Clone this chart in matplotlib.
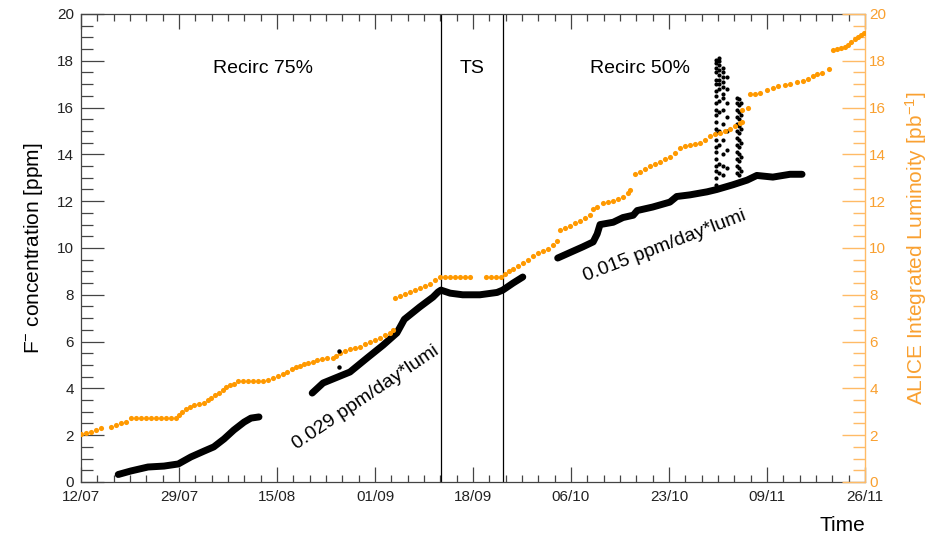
import numpy as np
import matplotlib
matplotlib.use("Agg")
import matplotlib.pyplot as plt
from matplotlib.ticker import FixedLocator, MultipleLocator

plt.rcParams['font.family'] = ['Liberation Sans', 'DejaVu Sans']
plt.rcParams['mathtext.fontset'] = 'custom'
plt.rcParams['mathtext.rm'] = 'Liberation Sans'
plt.rcParams['mathtext.it'] = 'Liberation Sans:italic'

# x is in days since 12/07
tick_labels = ['12/07', '29/07', '15/08', '01/09', '18/09', '06/10', '23/10', '09/11', '26/11']
x_max = 137.0

# F- concentration, three continuous stretches of data
f_seg1_day = [6.5, 8.7, 11.7, 14.5, 17.0, 19.2, 21.5, 23.2, 25.0, 26.7, 28.5, 29.7, 31.1]
f_seg1_ppm = [0.32, 0.47, 0.64, 0.68, 0.77, 1.07, 1.32, 1.5, 1.84, 2.22, 2.56, 2.73, 2.78]

f_seg2_day = [40.4, 42.3, 44.9, 47.0, 50.0, 52.8, 55.2, 56.5, 59.2, 61.5, 62.4, 62.9,
              64.5, 66.7, 69.7, 72.7, 73.7, 75.5, 77.2]
f_seg2_ppm = [3.8, 4.23, 4.49, 4.7, 5.3, 5.85, 6.37, 6.95, 7.48, 7.9, 8.12, 8.2,
              8.07, 8.0, 8.0, 8.1, 8.2, 8.5, 8.76]

f_seg3_day = [83.3, 85.4, 87.7, 89.5, 90.2, 90.7, 93.0, 94.7, 96.5, 97.2, 99.9, 102.9,
              104.1, 106.4, 109.4, 111.1, 113.9, 116.4, 118.1, 120.9, 123.9, 126.0]
f_seg3_ppm = [9.57, 9.8, 10.05, 10.26, 10.6, 11.0, 11.1, 11.3, 11.4, 11.6, 11.75, 11.96,
              12.2, 12.27, 12.4, 12.5, 12.7, 12.9, 13.1, 13.03, 13.15, 13.15]

# stray readings
f_out_day = [45.1, 45.1]
f_out_ppm = [5.6, 4.9]

# spiky readings end of October
spike_day = [110.9, 111.5, 112.2, 112.9, 114.6, 115.0, 115.4]
spike_ppm = [
    [12.7, 13.0, 13.3, 13.5, 13.8, 14.1, 14.3, 14.6, 14.9, 15.1, 15.4, 15.7, 15.9, 16.2,
     16.5, 16.7, 17.0, 17.2, 17.5, 17.7, 17.9, 18.05],
    [13.2, 13.6, 14.4, 15.0, 15.8, 16.3, 16.8, 17.0, 17.2, 17.4, 17.6, 17.8, 18.0, 18.1],
    [13.1, 13.5, 14.0, 14.6, 15.3, 15.9, 16.4, 16.6, 16.9, 17.1, 17.3, 17.5, 17.7],
    [13.4, 14.2, 15.0, 15.6, 16.2, 16.8, 17.3],
    [13.2, 13.5, 13.8, 14.1, 14.4, 14.7, 15.0, 15.3, 15.6, 15.9, 16.2, 16.4],
    [13.1, 13.4, 13.7, 14.0, 14.3, 14.6, 14.9, 15.2, 15.5, 15.8, 16.1, 16.35],
    [13.3, 13.9, 14.5, 15.1, 15.7, 16.2],
]

# ALICE integrated luminosity
lumi_day = [0.0, 0.9, 1.7, 2.6, 3.5, 5.2, 6.1, 7.0, 7.9, 8.7, 9.6, 10.5, 11.4, 12.2, 13.1,
            14.0, 14.9, 15.7, 16.6, 17.1, 17.6, 18.3, 19.0, 19.7, 20.6, 21.5, 22.2, 22.7,
            23.4, 24.1, 24.8, 25.3, 26.0, 26.7, 27.4, 28.3, 29.2, 30.1, 30.9, 31.8, 32.7,
            33.5, 34.4, 35.3, 36.0, 36.9, 37.6, 38.3, 39.0, 39.7, 40.5, 41.2, 42.1, 43.0,
            44.0, 44.6, 45.3, 46.1, 47.0, 47.9, 48.8, 49.6, 50.5, 51.4, 52.2, 53.1, 54.0,
            54.5, 54.9, 55.7, 56.6, 57.5, 58.4, 59.2, 60.1, 61.0, 61.9, 62.7, 63.6, 64.5,
            65.4, 66.2, 67.1, 68.0, 70.8, 71.6, 72.5, 73.4, 74.1, 74.8, 75.5, 76.4, 77.2,
            78.1, 79.0, 79.9, 80.7, 81.6, 82.5, 83.2, 83.7, 84.6, 85.4, 86.3, 87.2, 88.1,
            88.9, 89.5, 90.2, 91.2, 92.1, 93.0, 93.8, 94.7, 95.6, 95.9, 96.8, 97.7, 98.6,
            99.4, 100.3, 101.2, 102.0, 102.9, 103.8, 104.7, 105.5, 106.4, 107.3, 108.2,
            109.0, 109.9, 110.8, 111.7, 112.5, 113.4, 114.3, 115.2, 115.5, 115.5, 116.5,
            116.9, 117.8, 118.6, 119.9, 120.9, 121.8, 123.0, 123.9, 125.1, 126.2, 127.0,
            127.9, 128.6, 129.5, 130.7, 131.4, 132.1, 132.8, 133.5, 134.0, 134.5, 135.2,
            135.8, 136.3, 136.8]
lumi_pb = [2.05, 2.09, 2.14, 2.22, 2.31, 2.35, 2.44, 2.52, 2.56, 2.74, 2.74, 2.74, 2.74, 2.74,
           2.74, 2.74, 2.74, 2.74, 2.74, 2.86, 2.99, 3.12, 3.2, 3.29, 3.33, 3.38, 3.5, 3.59,
           3.72, 3.8, 3.93, 4.06, 4.15, 4.19, 4.32, 4.32, 4.32, 4.32, 4.32, 4.32, 4.36,
           4.44, 4.53, 4.62, 4.7, 4.83, 4.91, 4.96, 5.04, 5.09, 5.13, 5.21, 5.26, 5.3,
           5.3, 5.38, 5.51, 5.6, 5.68, 5.73, 5.77, 5.9, 5.98, 6.07, 6.15, 6.28, 6.37,
           6.5, 7.86, 7.95, 8.03, 8.12, 8.2, 8.29, 8.38, 8.46, 8.63, 8.76, 8.76, 8.76,
           8.76, 8.76, 8.76, 8.76, 8.76, 8.76, 8.76, 8.76, 8.89, 9.02, 9.1, 9.23, 9.36,
           9.49, 9.66, 9.79, 9.87, 9.96, 10.13, 10.3, 10.77, 10.85, 10.94, 11.07, 11.15, 11.28,
           11.41, 11.67, 11.75, 11.92, 11.97, 12.01, 12.09, 12.18, 12.35, 12.48, 13.16, 13.25, 13.38,
           13.5, 13.59, 13.68, 13.8, 13.89, 14.06, 14.27, 14.36, 14.4, 14.44, 14.49,
           14.62, 14.79, 14.87, 14.91, 15.0, 15.09, 15.21, 15.34, 15.9, 15.38, 15.98,
           16.58, 16.58, 16.62, 16.75, 16.84, 16.92, 16.97, 17.01, 17.09, 17.14, 17.22,
           17.35, 17.44, 17.48, 17.65, 18.46, 18.5, 18.55, 18.59, 18.68, 18.8, 18.93,
           19.02, 19.1, 19.19]

ts_start, ts_end = 62.9, 73.7

axis_grey = '#444444'
orange = '#ff9900'
orange_axis = '#ffbb66'
orange_text = '#f9a030'

fig = plt.figure(figsize=(9.27, 5.34), dpi=100)
ax = fig.add_axes([0.0874, 0.0974, 0.8457, 0.8764])
ax2 = ax.twinx()

# concentration
for d, v in [(f_seg1_day, f_seg1_ppm), (f_seg2_day, f_seg2_ppm), (f_seg3_day, f_seg3_ppm)]:
    ax.plot(d, v, color='black', lw=5.0, solid_capstyle='round', solid_joinstyle='round', zorder=3)
for d, vals in zip(spike_day, spike_ppm):
    ax.plot([d] * len(vals), vals, 'o', color='black', ms=3.0, mew=0, zorder=3)

ax.axvline(ts_start, color='black', lw=0.9, zorder=2)
ax.axvline(ts_end, color='black', lw=0.9, zorder=2)

ax.set_xlim(0, x_max)
ax.set_ylim(0, 20)
major_x = [i * x_max / 8 for i in range(9)]
ax.xaxis.set_major_locator(FixedLocator(major_x))
ax.xaxis.set_minor_locator(MultipleLocator(x_max / 48))
ax.set_xticklabels(tick_labels)
ax.yaxis.set_major_locator(MultipleLocator(2))
ax.yaxis.set_minor_locator(MultipleLocator(0.5))

ax.tick_params(axis='x', which='major', direction='in', length=10.8, width=0.9,
               color=axis_grey, top=True, labelsize=11, labelcolor='#222222', pad=5.5)
ax.tick_params(axis='x', which='minor', direction='in', length=5.2, width=0.9,
               color=axis_grey, top=True)
ax.tick_params(axis='y', which='major', direction='in', length=16.5, width=0.9,
               color=axis_grey, right=False, labelsize=11, labelcolor='#222222', pad=5)
ax.tick_params(axis='y', which='minor', direction='in', length=8.6, width=0.9,
               color=axis_grey, right=False)
for s in ['left', 'bottom', 'top']:
    ax.spines[s].set_color(axis_grey)
    ax.spines[s].set_linewidth(0.9)
ax.spines['right'].set_visible(False)

ax.set_ylabel('F$^{-}$ concentration [ppm]', fontsize=15, labelpad=9)
ax.set_xlabel('Time', fontsize=15)
ax.xaxis.set_label_coords(1.0, -0.072)
ax.xaxis.label.set_horizontalalignment('right')

# luminosity on the right axis
ax2.plot(lumi_day, lumi_pb, 'o', color=orange, ms=3.7, mew=0, zorder=4)
ax2.plot(f_out_day, f_out_ppm, 'o', color='black', ms=3.2, mew=0, zorder=5)
ax2.set_ylim(0, 20)
ax2.yaxis.set_major_locator(MultipleLocator(2))
ax2.yaxis.set_minor_locator(MultipleLocator(0.5))
ax2.tick_params(axis='y', which='major', direction='in', length=16.5, width=1.0,
                color=orange_axis, labelsize=11, labelcolor=orange_text, pad=3)
ax2.tick_params(axis='y', which='minor', direction='in', length=8.6, width=1.0,
                color=orange_axis)
for s in ['left', 'bottom', 'top']:
    ax2.spines[s].set_visible(False)
ax2.spines['right'].set_color(orange_axis)
ax2.spines['right'].set_linewidth(1.0)
ax2.set_ylabel('ALICE Integrated Luminoity [pb$^{-1}$]', fontsize=15, color=orange_text,
               labelpad=12)

# period labels
ax.text(31.8, 17.65, 'Recirc 75%', fontsize=14, ha='center', va='center')
ax.text(68.3, 17.65, 'TS', fontsize=14, ha='center', va='center')
ax.text(97.7, 17.65, 'Recirc 50%', fontsize=14, ha='center', va='center')
ax.text(49.8, 3.6, '0.029 ppm/day*lumi', fontsize=14, ha='center', va='center',
        rotation=34, rotation_mode='anchor')
ax.text(102.0, 10.1, '0.015 ppm/day*lumi', fontsize=14, ha='center', va='center',
        rotation=21, rotation_mode='anchor')

fig.savefig('out.png', dpi=100)
